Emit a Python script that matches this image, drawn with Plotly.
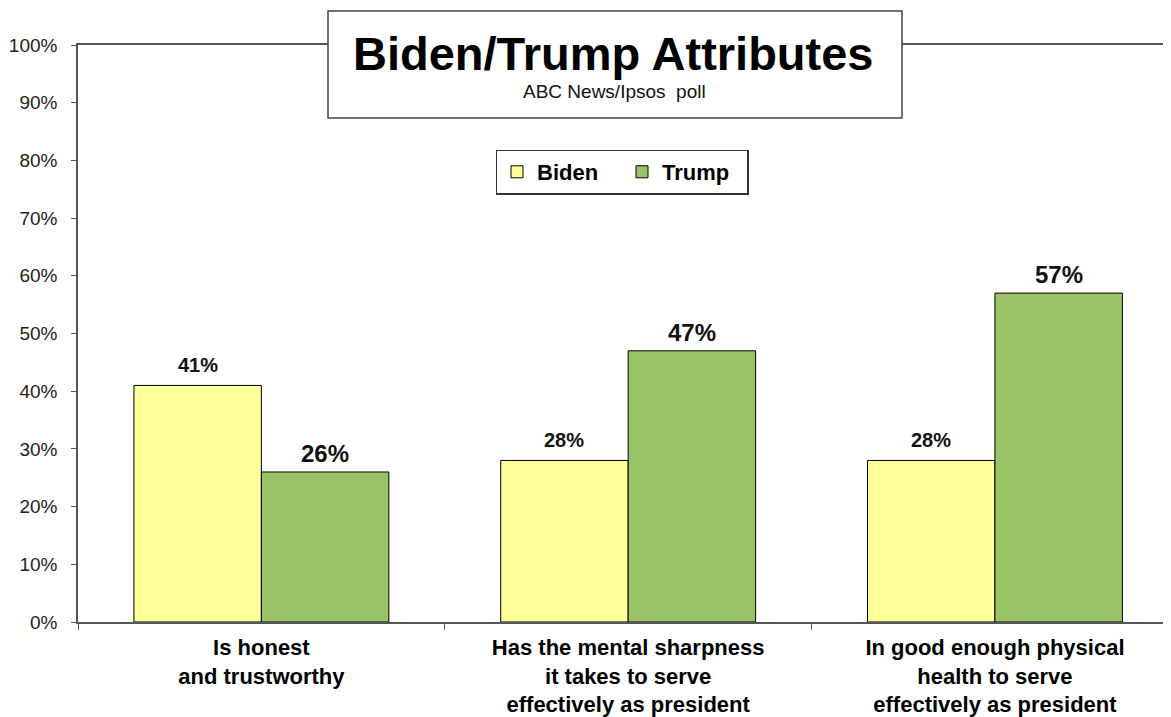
import plotly.graph_objects as go

categories = ["Is honest<br>and trustworthy",
              "Has the mental sharpness<br>it takes to serve<br>effectively as president",
              "In good enough physical<br>health to serve<br>effectively as president"]
biden = [41, 28, 28]
trump = [26, 47, 57]
y_ticks = list(range(0, 101, 10))
y_tick_labels = [f"{v}%" for v in y_ticks]

FONT = "Liberation Sans, Arial, sans-serif"
BIDEN_COLOR = "#FFFF99"
TRUMP_COLOR = "#99C466"

# page has an 8px body margin: figure origin sits at (8, 8) in the window
OFF = 8
W, H = 1171 - OFF, 717 - OFF
L, R, T, B = 78 - OFF, 0, 45 - OFF, 95

fig = go.Figure()
fig.add_trace(go.Bar(name="Biden", x=categories, y=biden,
                     marker=dict(color=BIDEN_COLOR, line=dict(color="#000000", width=1))))
fig.add_trace(go.Bar(name="Trump", x=categories, y=trump,
                     marker=dict(color=TRUMP_COLOR, line=dict(color="#000000", width=1))))

plot_w = W - L - R
plot_h = H - T - B
x_hi = 2.48
cat_px = plot_w / (x_hi + 0.5)
bargap = 0.305
bar_px = cat_px * (1 - bargap) / 2

for cat, v in zip(categories, biden):
    fig.add_annotation(x=cat, y=v, xref="x", yref="y", text=f"<b>{v}%</b>",
                       showarrow=False, xshift=-bar_px / 2, yshift=7, yanchor="bottom",
                       font=dict(family=FONT, size=20, color="#111111"))
for cat, v in zip(categories, trump):
    fig.add_annotation(x=cat, y=v, xref="x", yref="y", text=f"<b>{v}%</b>",
                       showarrow=False, xshift=bar_px / 2, yshift=3, yanchor="bottom",
                       font=dict(family=FONT, size=24, color="#111111"))

def px_to_paper_x(px):
    return (px - OFF - L) / plot_w
def px_to_paper_y(py):
    return (H - B - (py - OFF)) / plot_h

fig.add_shape(type="rect", xref="paper", yref="paper",
              x0=px_to_paper_x(328), x1=px_to_paper_x(902),
              y0=px_to_paper_y(118), y1=px_to_paper_y(11),
              line=dict(color="#444444", width=1.5), fillcolor="white", layer="above")
fig.add_annotation(xref="paper", yref="paper", x=px_to_paper_x(613), y=px_to_paper_y(54),
                   text="<b>Biden/Trump Attributes</b>", showarrow=False,
                   font=dict(family=FONT, size=47, color="#000000"), yanchor="middle")
fig.add_annotation(xref="paper", yref="paper", x=px_to_paper_x(614), y=px_to_paper_y(92),
                   text="ABC News/Ipsos  poll", showarrow=False,
                   font=dict(family=FONT, size=19, color="#111111"), yanchor="middle")

fig.update_layout(
    width=W, height=H,
    margin=dict(l=L, r=R, t=T, b=B, pad=0, autoexpand=False),
    paper_bgcolor="white", plot_bgcolor="white",
    barmode="group", bargap=bargap, bargroupgap=0,
    font=dict(family=FONT, color="#111111"),
    legend=dict(orientation="h", x=px_to_paper_x(622), y=px_to_paper_y(172),
                xanchor="center", yanchor="middle",
                bordercolor="#333333", borderwidth=1.5, bgcolor="white",
                font=dict(family=FONT, size=22, color="#000000", weight="bold"),
                itemwidth=30, entrywidth=80),
    showlegend=True,
)
fig.update_xaxes(type="category", range=[-0.5, x_hi], tickson="boundaries",
                 ticks="outside", ticklen=6, tickcolor="#555555",
                 showline=True, linecolor="#555555", linewidth=1.5, mirror=True,
                 showgrid=False, ticklabelstandoff=5, automargin=False,
                 tickfont=dict(family=FONT, size=22, color="#000000", weight="bold"))
fig.update_yaxes(range=[0, 100], tickvals=y_ticks, ticktext=y_tick_labels,
                 ticks="outside", ticklen=5, tickcolor="#555555",
                 showline=True, linecolor="#555555", linewidth=1.5,
                 showgrid=False, zeroline=False, ticklabelstandoff=10, automargin=False,
                 tickfont=dict(family=FONT, size=19, color="#222222"))

fig.write_html("out.html")
